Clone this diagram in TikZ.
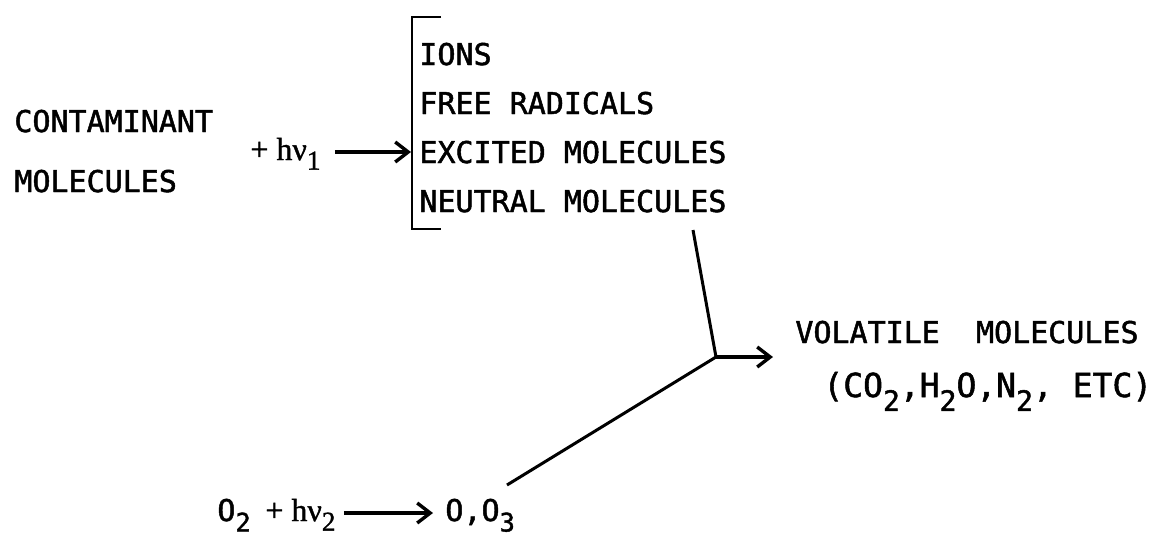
\documentclass[tikz,border=0pt]{standalone}
\usepackage{fontspec}
\usepackage{graphicx}
\setmainfont{DejaVu Sans Mono}
\newfontfamily\monof{DejaVu Sans Mono}[FakeBold=1.6]
\newfontfamily\serifhv{Liberation Serif}[FakeBold=1.2]
\usetikzlibrary{arrows.meta}
\newcommand\dn[2][0.42em]{\raisebox{-#1}{\scalebox{0.85}{#2}}}
\begin{document}
\begin{tikzpicture}[x=0.5pt,y=-0.5pt,
  lab/.style={inner sep=0pt, anchor=base west, font=\monof\fontsize{15}{18}\selectfont},
  big/.style={inner sep=0pt, anchor=base west, font=\monof\fontsize{16.5}{20}\selectfont},
  hv/.style={inner sep=0pt, anchor=base west, font=\serifhv\fontsize{16}{19}\selectfont},
  brk/.style={line width=1.4pt},
  conn/.style={line width=1.5pt},
  arr/.style={line width=1.7pt, -{Straight Barb[length=6.5pt,width=10pt]}}]
\path[use as bounding box] (0,0) rectangle (1152,537);
% left reaction
\node[lab] (cont) at (14,132) {CONTAMINANT};
\node[lab] (mol) at (14,192) {MOLECULES};
\node[hv] (hv1) at (250,160) {+ hν\dn[0.3em]{1}};
% bracket list
\node[lab] (ions) at (419,65) {IONS};
\node[lab] (free) at (419,114) {FREE RADICALS};
\node[lab] (exc) at (419,163) {EXCITED MOLECULES};
\node[lab] (neu) at (419,212) {NEUTRAL MOLECULES};
\draw[brk] (441,17) -- (412,17) -- (412,229) -- (441,229);
\coordinate (bk) at (411,152);
\draw[arr, shorten <=7pt] (hv1.east |- bk) -- (bk);
% products
\node[lab] (vol) at (795,343) {VOLATILE\ \ MOLECULES};
\node[big] (co) at (823,397) {(CO\dn{2},H\dn{2}O,N\dn{2}, ETC)};
\coordinate (nend) at (693,230);
\coordinate (jn) at (716,357);
\draw[conn] (nend) -- (jn);
\draw[arr, shorten >=11pt] (jn) -- (vol.west |- jn);
% oxygen reaction
\node[lab] (o2) at (217,521) {O\dn[0.35em]{2}};
\node[hv] (hv2) at (265,521) {+ hν\dn[0.3em]{2}};
\node[lab] (oo3) at (445,521) {O,O\dn[0.35em]{3}};
\coordinate (la) at (340,513);
\draw[arr, shorten <=4pt, shorten >=6pt] (hv2.east |- la) -- (oo3.west |- la);
\coordinate (oend) at (507,485);
\draw[conn] (oend) -- (jn);
\end{tikzpicture}
\end{document}
